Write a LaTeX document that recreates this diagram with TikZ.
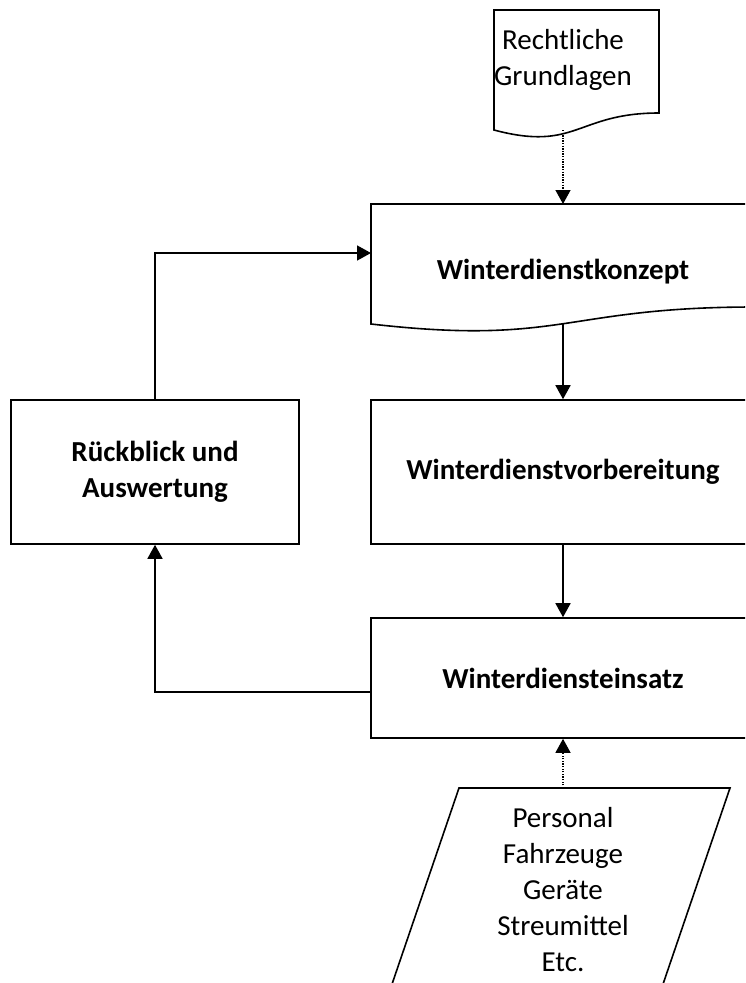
\documentclass[tikz,border=0pt]{standalone}
\usepackage{fontspec}
\setmainfont{Carlito}
\usepackage{tikz}
\usetikzlibrary{arrows.meta, calc}

\tikzset{
	box/.style={draw, line width=1.6pt, inner sep=0pt, align=center, font=\bfseries\fontsize{29}{36}\selectfont},
	label/.style={inner sep=0pt, align=center, font=\fontsize{29}{36}\selectfont},
	outline/.style={line width=1.6pt},
	flow/.style={line width=1.6pt, -{Triangle[width=15pt,length=14pt]}},
	feed/.style={flow, line width=1.3pt, dash pattern=on 1.3pt off 1.3pt},
}

\begin{document}
\begin{tikzpicture}[x=1pt, y=-1pt]
					\useasboundingbox (0,0) rectangle (745,983);
					\clip (0,0) rectangle (745,983);
					
					% document shapes
					\node[label] at (563,60) (recht) {Rechtliche\\Grundlagen};
					\draw[outline] (494,10) -- (659,10) -- (659,113) .. controls (576.5,113) and (576.5,152) .. (494,130) -- cycle;
					\coordinate (recht-out) at (563,130);
					
					\node[label, font=\bfseries\fontsize{29}{36}\selectfont] at (563,272) (konzept) {Winterdienstkonzept};
					\draw[outline] (371,204) -- (755,204) -- (755,307) .. controls (563,307) and (563,346) .. (371,324) -- cycle;
					\coordinate (konzept-in) at (563,204);
					\coordinate (konzept-out) at (563,324);
					\coordinate (konzept-back) at (371,253);
					
					\node[box, minimum width=384pt, minimum height=144pt] at (563,472) (vorb) {Winterdienstvorbereitung};
					\node[box, minimum width=384pt, minimum height=120pt] at (563,678) (einsatz) {Winterdiensteinsatz};
					\node[box, minimum width=288pt, minimum height=144pt] at (155,472) (rueck) {R\"uckblick und\\Auswertung};
					
					% resources
					\node[label] at (563,890) (res) {Personal\\Fahrzeuge\\Ger\"ate\\Streumittel\\Etc.};
					\draw[outline] (459,788) -- (730,788) -- (661,990) -- (390,990) -- cycle;
					\coordinate (res-out) at (563,788);
					
					\draw[feed] (recht-out) -- (konzept-in);
					\draw[flow] (konzept-out) -- (vorb.north);
					\draw[flow] (vorb.south) -- (einsatz.north);
					\draw[feed] (res-out) -- (einsatz.south);
					\draw[flow] ([yshift=-14pt]einsatz.west) -| (rueck.south);
					\draw[flow] (rueck.north) |- (konzept-back);
				\end{tikzpicture}
\end{document}
